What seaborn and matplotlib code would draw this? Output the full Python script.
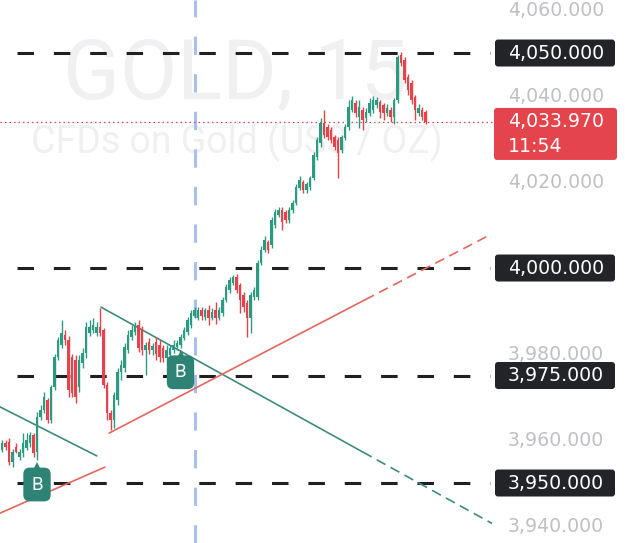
"""
GOLD, 15 - свечной график с уровнями и трендовыми линиями
"""

import numpy as np
import matplotlib
matplotlib.use('Agg')
import matplotlib.pyplot as plt
import matplotlib.transforms as mtransforms
from matplotlib.patches import FancyBboxPatch
import seaborn as sns

# --- данные свечей (15 мин) ---
opens = [3957.7, 3959.3, 3959.5, 3954.9, 3958.4, 3956.0, 3957.0, 3958.1, 3959.3, 3961.2,
         3957.2, 3965.3, 3967.0, 3969.3, 3964.7, 3972.3, 3979.3, 3982.1, 3984.4, 3983.3,
         3979.3, 3978.6, 3972.3, 3977.9, 3980.2, 3984.9, 3985.6, 3984.9, 3986.3, 3985.6,
         3972.8, 3966.3, 3964.7, 3969.3, 3975.8, 3976.7, 3980.9, 3984.0, 3985.1, 3986.7,
         3985.6, 3980.9, 3982.8, 3980.9, 3982.8, 3982.1, 3981.4, 3979.1, 3979.8, 3980.9,
         3981.6, 3982.1, 3983.7, 3985.1, 3986.7, 3988.8, 3988.4, 3990.2, 3988.6, 3990.2,
         3988.4, 3990.2, 3988.4, 3989.5, 3992.6, 3994.9, 3996.5, 3997.9, 3996.0, 3993.7,
         3991.9, 3988.4, 3993.3, 3993.3, 4001.2, 4004.2, 4006.0, 4005.3, 4010.0, 4012.3,
         4013.5, 4013.0, 4011.2, 4013.5, 4015.1, 4018.6, 4020.0, 4018.1, 4018.8, 4020.9,
         4025.8, 4029.1, 4033.7, 4032.8, 4032.1, 4030.5, 4029.8, 4027.4, 4030.2, 4032.8,
         4036.7, 4038.4, 4035.1, 4036.7, 4034.9, 4036.0, 4036.7, 4037.9, 4038.6, 4037.9,
         4036.0, 4036.7, 4035.1, 4039.1, 4049.5, 4048.4, 4044.4, 4043.0, 4039.8, 4036.0,
         4036.7, 4036.3]
highs = [3960.0, 3960.0, 3960.5, 3957.9, 3959.3, 3957.9, 3961.6, 3961.6, 3961.9, 3961.6,
         3966.5, 3968.1, 3971.2, 3969.8, 3972.8, 3980.0, 3984.0, 3987.9, 3985.6, 3984.2,
         3980.0, 3979.8, 3979.8, 3981.4, 3987.4, 3987.9, 3988.4, 3987.4, 3990.7, 3986.0,
         3973.5, 3967.0, 3971.2, 3976.7, 3978.6, 3982.6, 3985.6, 3986.7, 3987.4, 3987.9,
         3986.5, 3982.8, 3983.7, 3982.6, 3984.0, 3983.3, 3982.1, 3982.1, 3982.1, 3983.3,
         3983.3, 3984.7, 3986.3, 3988.6, 3990.2, 3990.9, 3990.9, 3990.9, 3990.7, 3991.4,
         3990.7, 3992.1, 3990.9, 3993.3, 3996.3, 3997.9, 3998.4, 3998.6, 3996.5, 3994.4,
         3992.6, 3994.4, 3995.6, 4001.9, 4005.1, 4007.4, 4006.5, 4011.9, 4013.7, 4014.2,
         4014.2, 4013.5, 4014.2, 4015.8, 4019.5, 4021.4, 4020.5, 4020.0, 4021.4, 4027.0,
         4030.5, 4034.9, 4036.7, 4033.5, 4032.8, 4030.9, 4030.5, 4030.9, 4033.5, 4039.1,
         4040.0, 4039.1, 4039.1, 4037.4, 4037.2, 4039.5, 4040.0, 4039.8, 4039.1, 4038.4,
         4038.1, 4037.4, 4039.5, 4049.5, 4050.2, 4049.1, 4045.1, 4043.7, 4040.2, 4038.1,
         4037.4, 4036.7]
lows = [3957.2, 3957.7, 3954.2, 3953.7, 3957.0, 3955.3, 3956.0, 3957.7, 3958.4, 3956.0,
        3955.3, 3964.7, 3966.3, 3964.0, 3964.0, 3971.6, 3978.6, 3981.4, 3982.1, 3970.0,
        3970.0, 3968.6, 3971.2, 3976.7, 3979.1, 3984.2, 3984.9, 3984.2, 3984.2, 3972.1,
        3964.7, 3962.3, 3962.8, 3968.1, 3974.0, 3975.8, 3980.2, 3983.3, 3984.4, 3980.5,
        3979.8, 3975.1, 3980.0, 3979.8, 3978.6, 3978.1, 3978.1, 3978.1, 3979.1, 3980.2,
        3980.9, 3981.4, 3983.3, 3984.4, 3986.0, 3988.4, 3987.9, 3987.9, 3987.9, 3986.7,
        3987.9, 3987.0, 3987.9, 3988.8, 3992.1, 3994.2, 3996.0, 3994.2, 3989.5, 3989.8,
        3984.0, 3984.9, 3992.6, 3992.6, 4000.7, 4003.7, 4003.5, 4004.7, 4009.3, 4011.9,
        4008.8, 4010.5, 4010.5, 4012.8, 4014.7, 4018.1, 4017.4, 4017.4, 4018.1, 4020.5,
        4025.1, 4028.1, 4030.2, 4029.8, 4029.1, 4027.4, 4020.9, 4026.7, 4029.8, 4032.1,
        4036.3, 4035.1, 4032.6, 4032.1, 4034.0, 4035.3, 4036.0, 4037.2, 4034.9, 4034.4,
        4035.3, 4034.0, 4033.5, 4038.4, 4047.0, 4043.0, 4040.2, 4038.1, 4034.4, 4035.3,
        4034.4, 4033.5]
closes = [3959.3, 3958.4, 3954.9, 3957.2, 3957.2, 3957.2, 3959.3, 3960.0, 3961.2, 3957.0,
          3965.3, 3967.0, 3970.0, 3964.7, 3972.3, 3979.3, 3983.3, 3984.9, 3983.3, 3971.6,
          3970.9, 3970.0, 3978.6, 3980.2, 3986.3, 3986.3, 3986.7, 3986.3, 3984.9, 3972.8,
          3966.3, 3964.7, 3970.5, 3975.8, 3977.4, 3981.6, 3984.4, 3985.6, 3986.7, 3981.4,
          3980.9, 3982.1, 3980.9, 3981.9, 3980.0, 3979.3, 3979.1, 3980.9, 3981.4, 3982.1,
          3982.6, 3984.0, 3985.6, 3987.9, 3989.5, 3990.2, 3990.2, 3988.8, 3990.2, 3988.4,
          3989.8, 3988.4, 3990.2, 3992.6, 3995.6, 3997.2, 3997.9, 3994.9, 3992.6, 3990.9,
          3988.4, 3993.7, 3994.9, 4001.2, 4004.2, 4006.5, 4004.2, 4011.2, 4013.0, 4013.5,
          4010.7, 4011.2, 4013.5, 4015.1, 4018.8, 4020.5, 4018.1, 4019.5, 4020.9, 4026.3,
          4029.8, 4033.7, 4030.9, 4030.5, 4029.8, 4028.1, 4026.7, 4030.5, 4032.8, 4037.4,
          4039.1, 4036.0, 4037.4, 4034.4, 4036.3, 4038.4, 4039.1, 4039.1, 4036.3, 4036.0,
          4037.2, 4035.1, 4039.1, 4049.1, 4047.7, 4043.7, 4041.4, 4039.1, 4036.7, 4037.2,
          4035.1, 4033.97]

# уровни и подписи шкалы
level_lines = [4050, 4000, 3975, 3950]
axis_ticks = [4060, 4040, 4020, 3980, 3960, 3940]
last_price = 4033.97
countdown = '11:54'
buy_signals = [10, 51]
session_break = 55.1

# трендовые линии: (x по индексу свечи, цена)
green_line_1 = ([-0.57, 27.1], [3967.7, 3956.3])
red_line_1 = ([-0.57, 29.4], [3943.0, 3953.7])
green_line_2 = ([28.3, 103.1], [3990.9, 3957.2])
green_line_2_ext = ([103.1, 140.0], [3957.2, 3940.6])
red_line_2 = ([30.6, 103.7], [3961.6, 3992.6])
red_line_2_ext = ([103.7, 139.4], [3992.6, 4007.7])

UP = '#2b9a80'
DOWN = '#e4434b'
LINE_GREEN = '#3f8c7a'
LINE_RED = '#e2675e'

sns.set_theme(style='white')
plt.rcParams['font.family'] = ['DejaVu Sans']

W, H, DPI = 625, 543, 100
fig = plt.figure(figsize=(W / DPI, H / DPI), dpi=DPI)
ax = fig.add_axes([0, 0, 1, 1])
ax.set_xlim(-2 / 3.5, (W - 2) / 3.5)
ax.set_ylim(3936.05, 4062.33)
ax.axis('off')
pix = mtransforms.IdentityTransform()

# водяной знак
ax.text(0.376, 0.8195, 'GOLD, 15', transform=ax.transAxes, ha='center', va='baseline',
        fontsize=60, family='Roboto', color='#f0f0f2', zorder=0)
ax.text(0.379, 0.7182, 'CFDs on Gold (US$ / OZ)', transform=ax.transAxes, ha='center',
        va='baseline', fontsize=27, family='Roboto', color='#f0f0f2', zorder=0)

# горизонтальные уровни
x_lvl = ax.transData.inverted().transform([(17, 0), (490, 0)])[:, 0]
for lvl in level_lines:
    ax.hlines(lvl, x_lvl[0], x_lvl[1], color='#1f2022', linewidth=2.2,
              linestyles=(0, (5.4, 6.5)), zorder=1)

# вертикальная линия сессии
ax.axvline(session_break, color='#a9c1ea', linewidth=2.2, linestyle=(0, (6.0, 6.3)), zorder=1)

# последняя цена
ax.hlines(last_price, ax.get_xlim()[0], x_lvl[1] + 1.5, color=DOWN, linewidth=0.9,
          linestyles=(0, (1.2, 2.4)), zorder=2)

# трендовые линии
sns.lineplot(x=green_line_1[0], y=green_line_1[1], ax=ax, color=LINE_GREEN, linewidth=1.2, zorder=2)
sns.lineplot(x=red_line_1[0], y=red_line_1[1], ax=ax, color=LINE_RED, linewidth=1.2, zorder=2)
sns.lineplot(x=green_line_2[0], y=green_line_2[1], ax=ax, color=LINE_GREEN, linewidth=1.2, zorder=2)
sns.lineplot(x=red_line_2[0], y=red_line_2[1], ax=ax, color=LINE_RED, linewidth=1.2, zorder=2)
ax.plot(*green_line_2_ext, color=LINE_GREEN, linewidth=1.2, linestyle=(0, (6, 3.5)), zorder=2)
ax.plot(*red_line_2_ext, color=LINE_RED, linewidth=1.2, linestyle=(0, (6, 3.5)), zorder=2)

# свечи
o = np.array(opens)
h = np.array(highs)
l = np.array(lows)
c = np.array(closes)
x = np.arange(len(o))
colors = np.where(c >= o, UP, DOWN)
ax.vlines(x, l, h, colors=colors, linewidth=1.0, zorder=3)
ax.bar(x, c - o, bottom=o, width=0.82, color=colors, linewidth=0, zorder=3)

# сигналы B
for i in buy_signals:
    tri = mtransforms.offset_copy(ax.transData, fig=fig, y=-6, units='dots')
    ax.plot(i, lows[i], marker='^', markersize=6, color='#2e8474', transform=tri,
            markeredgewidth=0, zorder=4)
    ax.annotate('B', xy=(i, lows[i]), xytext=(0, -11), textcoords='offset points',
                ha='center', va='top', color='white', fontsize=13.5, family='Roboto',
                bbox=dict(boxstyle='round,pad=0.42,rounding_size=0.35', fc='#2e8474', ec='none'),
                zorder=4)

# шкала цен справа
ytr = ax.get_yaxis_transform()
FS = 13.6
for t in axis_ticks:
    ax.text(508 / W, t, f'{t:,.3f}', transform=ytr, ha='left', va='center',
            fontsize=FS, color='#bfc0c4', zorder=5)


def py(price):
    return ax.transData.transform((0, price))[1]


for lvl in level_lines:
    yc = py(lvl)
    ax.add_patch(FancyBboxPatch((495, yc - 13.5), 120, 27,
                                boxstyle='round,pad=0,rounding_size=3',
                                fc='#232427', ec='none', transform=pix, zorder=5))
    ax.text(508 / W, lvl, f'{lvl:,.3f}', transform=ytr, ha='left', va='center',
            fontsize=FS, color='white', zorder=6)

yc = py(last_price)
ax.add_patch(FancyBboxPatch((494, yc - 38), 123, 52,
                            boxstyle='round,pad=0,rounding_size=3',
                            fc='#e4454c', ec='none', transform=pix, zorder=5))
ax.text(508 / W, last_price, f'{last_price:,.3f}', transform=ytr, ha='left', va='center',
        fontsize=FS, color='white', zorder=6)
line2 = mtransforms.offset_copy(ytr, fig=fig, y=-25, units='dots')
ax.text(508 / W, last_price, countdown, transform=line2, ha='left', va='center',
        fontsize=FS, color='white', zorder=6)

fig.savefig('out.png', dpi=DPI, facecolor='white')
